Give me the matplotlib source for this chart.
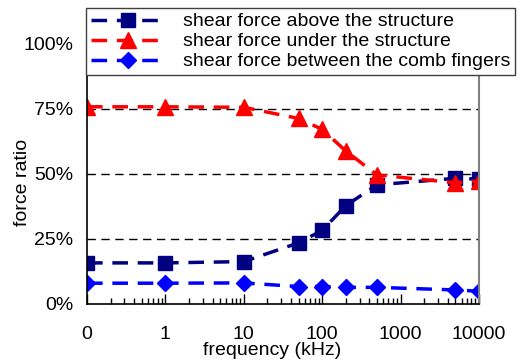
import numpy as np
import matplotlib.pyplot as plt
from matplotlib.ticker import FixedLocator, NullFormatter

plt.rcParams['font.family'] = ['Liberation Sans', 'DejaVu Sans']

# frequency in kHz (the "0" point is drawn at 0.1 on the log axis)
freq = [0.1, 1, 10, 50, 100, 200, 500, 5000, 10000]
tick_pos = [0.1, 1, 10, 100, 1000, 10000]
tick_labels = ['0', '1', '10', '100', '1000', '10000']

above = [15.8, 15.8, 16.3, 23.5, 28.3, 37.8, 45.8, 48.3, 48.0]
under = [75.8, 75.8, 75.6, 71.3, 67.1, 58.8, 49.6, 46.6, 47.3]
between = [8.0, 8.0, 8.1, 6.7, 6.7, 6.4, 6.4, 5.4, 4.9]

fig = plt.figure(figsize=(5.29, 3.6), dpi=100)
ax = fig.add_axes([87/529, 1-304/360, 392/529, 294/360])

dash = (4.5, 2.8)
ax.plot(freq, np.array(above)/100, color='#000080', ls=(0, dash), lw=2.5,
        marker='s', ms=10.5, label='shear force above the structure')
ax.plot(freq, np.array(under)/100, color='#ff0000', ls=(0, dash), lw=2.5,
        marker='^', ms=12, label='shear force under the structure')
ax.plot(freq, np.array(between)/100, color='#0000ff', ls=(0, dash), lw=2.5,
        marker='D', ms=8.5, label='shear force between the comb fingers')

ax.set_xscale('log')
ax.set_xlim(0.1, 10000)
ax.set_ylim(0, 1.13)
ax.set_xticks(tick_pos)
ax.set_xticklabels(tick_labels)
minors = [m * 10.0**e for e in range(-1, 4) for m in range(2, 10)]
ax.xaxis.set_minor_locator(FixedLocator(minors))
ax.xaxis.set_minor_formatter(NullFormatter())
ax.set_yticks([0, 0.25, 0.5, 0.75, 1.0])
ax.set_yticklabels(['0%', '25%', '50%', '75%', '100%'])

for y in [0.25, 0.5, 0.75, 1.0]:
    ax.axhline(y, color='black', ls=(0, (6, 4)), lw=1, zorder=0)

ax.tick_params(axis='x', which='major', direction='in', length=7, width=1,
               pad=16, labelsize=14)
ax.tick_params(axis='x', which='minor', direction='in', length=4, width=1)
ax.tick_params(axis='y', length=0, pad=10, labelsize=14)

ax.spines['top'].set_visible(False)
ax.spines['right'].set_color('#808080')
ax.spines['right'].set_linewidth(1.5)
ax.spines['left'].set_linewidth(1.2)
ax.spines['bottom'].set_linewidth(1.2)

ax.set_xlabel('frequency (kHz)', fontsize=14)
ax.xaxis.set_label_coords(0.472, -0.13)
ax.set_ylabel('force ratio', fontsize=14)
ax.yaxis.set_label_coords(-0.142, 0.415)

leg = fig.legend(loc='upper left', bbox_to_anchor=(86/529, 1-8/360),
                 fontsize=14, frameon=True, fancybox=False, framealpha=1,
                 handlelength=3.8, labelspacing=0.12, borderpad=0.25,
                 handletextpad=0.95, borderaxespad=0)
leg.get_frame().set_edgecolor('#404040')
leg.get_frame().set_linewidth(1)

fig.savefig('out.png', dpi=100)
